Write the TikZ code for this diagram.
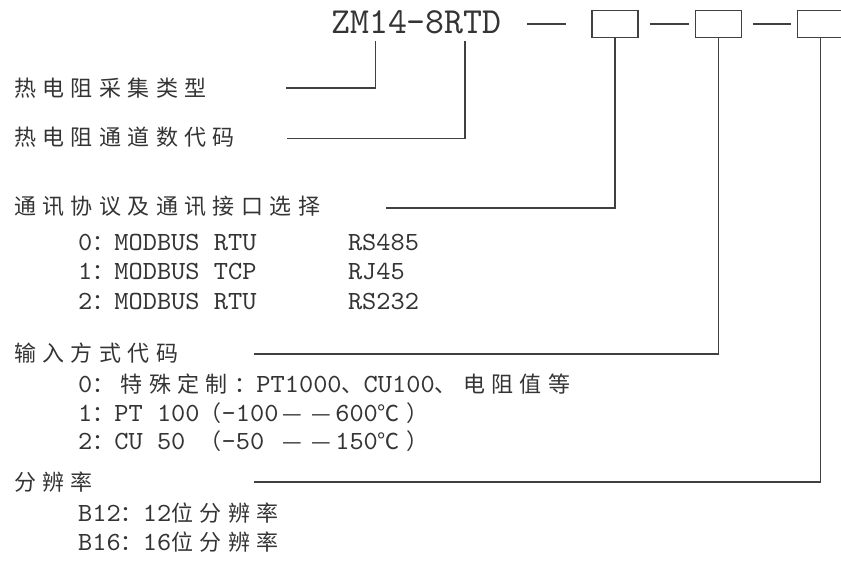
\documentclass[tikz,border=0pt]{standalone}
\usepackage{fontspec}
\newfontfamily\latfam{lmmono10-regular.otf}[FakeStretch=1.033]
\newfontfamily\titlefam{lmmono10-regular.otf}[FakeStretch=0.98]
\newfontfamily\cjkfam{Noto Sans CJK SC}[LetterSpace=29.1]
\newfontfamily\cjkplain{Noto Sans CJK SC}
\newcommand\zh[1]{{\cjkfam\fontsize{22pt}{22pt}\selectfont #1}}
\newcommand\fw[2][l]{\makebox[28.4pt][#1]{\cjkplain\fontsize{22pt}{22pt}\selectfont #2}}
\definecolor{ink}{RGB}{52,52,52}
\definecolor{ln}{RGB}{64,64,64}
\begin{document}
\begin{tikzpicture}[x=1pt,y=-1pt,
  txt/.style={inner sep=0pt, anchor=base west, text=ink, font=\latfam\fontsize{26.2pt}{26.2pt}\selectfont},
  hd/.style={inner sep=0pt, anchor=base west, text=ink, font=\cjkfam\fontsize{22pt}{22pt}\selectfont},
  ttl/.style={inner sep=0pt, anchor=base west, text=ink, font=\titlefam\fontsize{36.8pt}{36.8pt}\selectfont},
  codebox/.style={draw=ln, line width=1.1pt, minimum width=46pt, minimum height=27pt, inner sep=0pt},
  wire/.style={draw=ln, line width=1.1pt}]
\useasboundingbox (0,0) rectangle (841,562);
% title and code boxes
\node[ttl] (title) at (331,33) {ZM14-8RTD};
\node[codebox] (box1) at (615,24) {};
\node[codebox] (box2) at (718.25,24) {};
\node[codebox] (box3) at (820.5,24) {};
\coordinate (d1s) at (527,24);
\coordinate (d1e) at (566,24);
\draw[wire] (d1s) -- (d1e);
\draw[wire, shorten <=11pt, shorten >=6pt] (box1.east) -- (box2.west);
\draw[wire, shorten <=11pt, shorten >=6pt] (box2.east) -- (box3.west);
% headings
\node[hd] (h1) at (14,96.5) {热电阻采集类型};
\node[hd] (h2) at (14,145) {热电阻通道数代码};
\node[hd] (h3) at (14,214) {通讯协议及通讯接口选择};
\node[hd] (h4) at (14,361.5) {输入方式代码};
\node[hd] (h5) at (14,490) {分辨率};
% options
\node[txt] (r0) at (78,250) {0\zh{：}MODBUS RTU};
\node[txt] (p0) at (347.8,250) {RS485};
\node[txt] (r1) at (78,279.5) {1\zh{：}MODBUS TCP};
\node[txt] (p1) at (347.8,279.5) {RJ45};
\node[txt] (r2) at (78,309) {2\zh{：}MODBUS RTU};
\node[txt] (p2) at (347.8,309) {RS232};
\node[txt] (m0) at (78,392) {0\zh{：特殊定制：}PT1000\zh{、}CU100\zh{、电阻值等}};
\node[txt] (m1) at (78,421) {1\zh{：}PT 100\zh{（}-100\fw[c]{—}\fw[c]{—}600\fw{℃}\zh{）}};
\node[txt] (m2) at (78,449.5) {2\zh{：}CU 50 \zh{（}-50 \fw[c]{—}\fw[c]{—}150\fw{℃}\zh{）}};
\node[txt] (b12) at (78,521.7) {B12\zh{：}12\zh{位分辨率}};
\node[txt] (b16) at (78,550) {B16\zh{：}16\zh{位分辨率}};
% leader lines
\coordinate (t1) at (375.5,40.8);
\coordinate (t2) at (465,40.8);
\coordinate (c1) at (286,88);
\coordinate (c2) at (287,138.3);
\coordinate (c3) at (386,208);
\coordinate (c4) at (254,354);
\coordinate (c5) at (254,482);
\draw[wire] (c1) -| (t1);
\draw[wire] (c2) -| (t2);
\draw[wire] (c3) -| (box1.south);
\draw[wire] (c4) -| (box2.south);
\draw[wire] (c5) -| (box3.south);
\end{tikzpicture}
\end{document}
